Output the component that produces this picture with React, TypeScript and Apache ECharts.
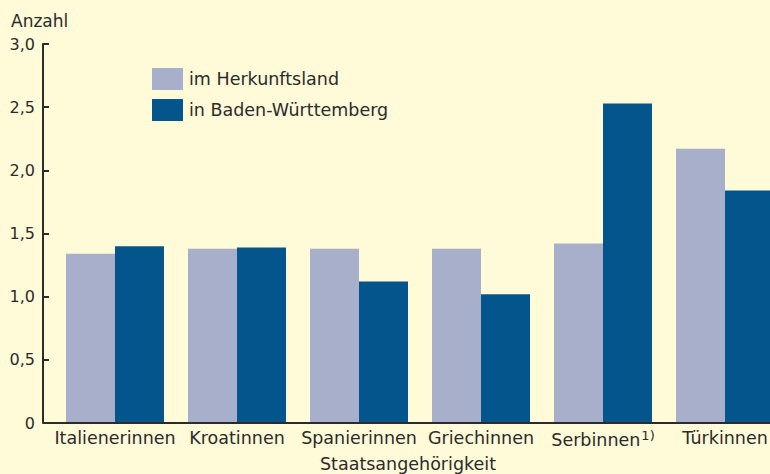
import React, { useEffect, useRef } from "react";
import * as echarts from "echarts";

const categories = ["Italienerinnen", "Kroatinnen", "Spanierinnen", "Griechinnen", "Serbinnen", "Türkinnen"];
const footnotes = ["", "", "", "", "1)", ""];
const herkunftsland = [1.34, 1.38, 1.38, 1.38, 1.42, 2.17];
const badenWuerttemberg = [1.40, 1.39, 1.12, 1.02, 2.53, 1.84];
const seriesNames = ["im Herkunftsland", "in Baden-Württemberg"];
const yTicks = [0, 0.5, 1.0, 1.5, 2.0, 2.5, 3.0];
const yAxisTitle = "Anzahl";
const xAxisTitle = "Staatsangehörigkeit";

const FONT = "DejaVu Sans";
const TEXT = "#2b2b2b";

export default function App() {
  const ref = useRef<HTMLDivElement>(null);
  useEffect(() => {
    if (!ref.current) return;
    const chart = echarts.init(ref.current, null, { renderer: "svg" });
    chart.setOption({
      animation: false,
      backgroundColor: "#fffad8",
      textStyle: { fontFamily: FONT },
      grid: { left: 54, top: 44, width: 732, height: 379, outerBoundsMode: "none", containLabel: false },
      legend: {
        orient: "vertical",
        left: 152,
        top: 68,
        padding: 0,
        itemWidth: 31,
        itemHeight: 22,
        itemGap: 9,
        icon: "rect",
        textStyle: { fontFamily: FONT, fontSize: 17.5, color: TEXT, padding: [0, 0, 0, 1] },
        data: seriesNames,
      },
      xAxis: {
        type: "category",
        data: categories,
        axisLine: { show: false },
        axisTick: { show: false },
        axisLabel: {
          margin: 6,
          interval: 0,
          fontFamily: FONT,
          fontSize: 17.5,
          color: TEXT,
          formatter: (v: string, i: number) =>
            footnotes[i] ? `{a|${v}}{s|${footnotes[i]}}` : `{a|${v}}`,
          rich: {
            a: { fontFamily: FONT, fontSize: 17.5, color: TEXT },
            s: { fontFamily: FONT, fontSize: 13, color: TEXT, verticalAlign: "top", padding: [0, 0, 9, 1] },
          },
        },
      },
      yAxis: {
        type: "value",
        min: yTicks[0],
        max: yTicks[yTicks.length - 1],
        interval: 0.5,
        offset: 11,
        splitLine: { show: false },
        axisLine: { show: true, lineStyle: { color: TEXT, width: 2 } },
        axisTick: { show: true, inside: true, length: 6, lineStyle: { color: TEXT, width: 2 } },
        axisLabel: {
          margin: 8,
          fontFamily: FONT,
          fontSize: 16,
          color: TEXT,
          formatter: (v: number) => (v === 0 ? "0" : v.toFixed(1).replace(".", ",")),
        },
      },
      graphic: [
        {
          type: "text",
          left: 11,
          top: 12,
          style: { text: yAxisTitle, fontFamily: FONT, fontSize: 17, fill: TEXT },
        },
        {
          type: "text",
          x: 408,
          y: 464,
          style: {
            text: xAxisTitle,
            fontFamily: FONT,
            fontSize: 17.5,
            fill: TEXT,
            align: "center",
            verticalAlign: "middle",
          },
        },
        {
          type: "line",
          shape: { x1: 43, y1: 423, x2: 770, y2: 423 },
          style: { stroke: TEXT, lineWidth: 2 },
          z: 10,
        },
      ],
      series: [
        {
          name: seriesNames[0],
          type: "bar",
          data: herkunftsland,
          barWidth: 49,
          barGap: "0%",
          itemStyle: { color: "#a8afcb" },
        },
        {
          name: seriesNames[1],
          type: "bar",
          data: badenWuerttemberg,
          barWidth: 49,
          barGap: "0%",
          itemStyle: { color: "#04558b" },
        },
      ],
    });
    return () => chart.dispose();
  }, []);
  return (
    <div
      ref={ref}
      style={{ position: "fixed", left: 0, top: 0, width: 770, height: 474 }}
    />
  );
}
